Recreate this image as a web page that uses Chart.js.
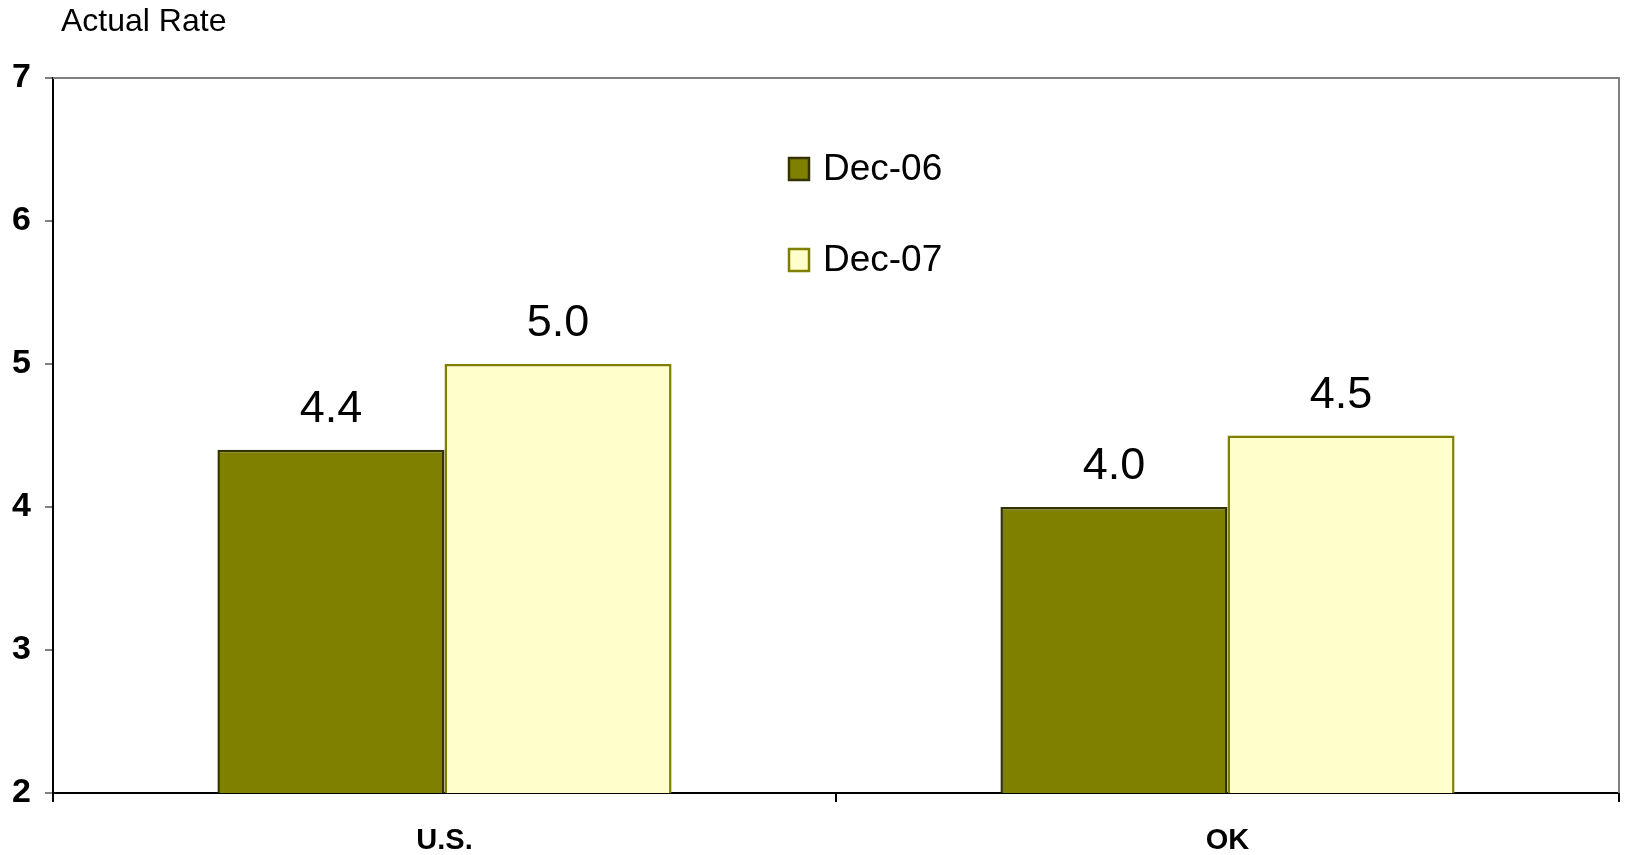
<!DOCTYPE html>
<html>
<head>
<meta charset="utf-8">
<script src="https://cdn.jsdelivr.net/npm/chart.js@4.4.0/dist/chart.umd.min.js"></script>
<style>
  body { margin: 0; background: #fff; }
  #wrap { width: 1629px; height: 855px; }
</style>
</head>
<body>
<div id="wrap"><canvas id="rateChart"></canvas></div>
<script>
// Chart values
const categories = ["U.S.", "OK"];
const seriesNames = ["Dec-06", "Dec-07"];
const dec06 = [4.4, 4.0];
const dec07 = [5.0, 4.5];
const yTicks = [2, 3, 4, 5, 6, 7];

const FONT = "'Liberation Sans', Arial, sans-serif";

// Draws the plot frame, the axis caption, the legend and the value labels
const decorations = {
  id: "decorations",
  afterDraw(chart) {
    const ctx = chart.ctx;
    const area = chart.chartArea;
    ctx.save();

    // gray frame on top and right of plot area
    ctx.strokeStyle = "#808080";
    ctx.lineWidth = 2;
    ctx.beginPath();
    ctx.moveTo(area.left, area.top);
    ctx.lineTo(area.right, area.top);
    ctx.lineTo(area.right, area.bottom);
    ctx.stroke();

    // caption
    ctx.fillStyle = "#000";
    ctx.font = "32px " + FONT;
    ctx.textAlign = "left";
    ctx.textBaseline = "middle";
    ctx.fillText("Actual Rate", 61, 22);

    // legend
    chart.data.datasets.forEach((ds, i) => {
      const y = 158 + i * 91;
      ctx.fillStyle = ds.backgroundColor;
      ctx.fillRect(789, y, 20, 22);
      ctx.strokeStyle = ds.borderColor;
      ctx.lineWidth = 2.5;
      ctx.strokeRect(789, y, 20, 22);
      ctx.fillStyle = "#000";
      ctx.font = "37px " + FONT;
      ctx.textAlign = "left";
      ctx.textBaseline = "middle";
      ctx.fillText(ds.label, 823, y + 12);
    });

    // value labels above bars
    ctx.font = "45px " + FONT;
    ctx.textAlign = "center";
    ctx.textBaseline = "alphabetic";
    ctx.fillStyle = "#000";
    chart.data.datasets.forEach((ds, i) => {
      chart.getDatasetMeta(i).data.forEach((bar, j) => {
        ctx.fillText(ds.data[j].toFixed(1), bar.x, bar.y - 28);
      });
    });
    ctx.restore();
  }
};

const ctx = document.getElementById("rateChart").getContext("2d");

new Chart(ctx, {
  type: "bar",
  data: {
    labels: categories,
    datasets: [
      {
        label: seriesNames[0],
        data: dec06,
        backgroundColor: "#808000",
        borderColor: "#333300",
        borderWidth: 2.5,
        borderSkipped: "bottom"
      },
      {
        label: seriesNames[1],
        data: dec07,
        backgroundColor: "#ffffcc",
        borderColor: "#808000",
        borderWidth: 2.5,
        borderSkipped: "bottom"
      }
    ]
  },
  options: {
    responsive: true,
    maintainAspectRatio: false,
    animation: false,
    layout: { padding: { top: 78, right: 10, left: 0, bottom: 0 } },
    datasets: {
      bar: { categoryPercentage: 0.58, barPercentage: 1.0 }
    },
    plugins: {
      legend: { display: false },
      tooltip: { enabled: false }
    },
    scales: {
      x: {
        grid: {
          offset: true,
          drawOnChartArea: false,
          tickLength: 9,
          color: "#000",
          lineWidth: 2
        },
        border: { color: "#000", width: 2 },
        ticks: {
          color: "#000",
          padding: 22,
          font: { family: FONT, size: 29, weight: "bold" }
        },
        afterFit(scale) { scale.height = 62; }
      },
      y: {
        min: yTicks[0],
        max: yTicks[yTicks.length - 1],
        afterBuildTicks(scale) {
          scale.ticks = yTicks.map(v => ({ value: v }));
        },
        grid: {
          drawOnChartArea: false,
          tickLength: 8,
          color: "#808080",
          lineWidth: 2
        },
        border: { color: "#000", width: 2 },
        ticks: {
          color: "#000",
          padding: 14,
          font: { family: FONT, size: 34, weight: "bold" }
        },
        afterFit(scale) { scale.width = 53; }
      }
    }
  },
  plugins: [decorations]
});
</script>
</body>
</html>
